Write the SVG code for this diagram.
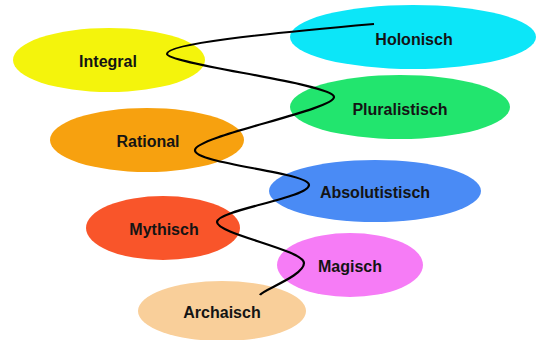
<svg xmlns="http://www.w3.org/2000/svg" width="537" height="340" viewBox="0 0 537 340">
<style>
text{font-family:"Liberation Sans",Arial,sans-serif;font-weight:bold;font-size:16px;fill:#141414;text-anchor:middle}
.line{fill:none;stroke:#000;stroke-width:2.2}
</style>
<rect width="537" height="340" fill="#fff"/>
<g id="integral"><ellipse cx="109" cy="60" rx="96" ry="32" fill="#F4F40C"/><text x="108" y="67">Integral</text></g>
<g id="holonisch"><ellipse cx="413" cy="37" rx="123" ry="32" fill="#0CE6F8"/><text x="414" y="45">Holonisch</text></g>
<g id="pluralistisch"><ellipse cx="400" cy="107" rx="110" ry="32" fill="#22E56E"/><text x="400" y="115">Pluralistisch</text></g>
<g id="rational"><ellipse cx="147" cy="140" rx="97" ry="32" fill="#F7A10F"/><text x="148" y="147">Rational</text></g>
<g id="absolutistisch"><ellipse cx="375" cy="191" rx="106" ry="31" fill="#4A8BF5"/><text x="375" y="198">Absolutistisch</text></g>
<g id="mythisch"><ellipse cx="163" cy="228" rx="77" ry="32" fill="#F9552A"/><text x="164" y="235">Mythisch</text></g>
<g id="magisch"><ellipse cx="350" cy="265" rx="73" ry="32" fill="#F67CF6"/><text x="350" y="272">Magisch</text></g>
<g id="archaisch"><ellipse cx="222" cy="311" rx="84" ry="30" fill="#F9CF9A"/><text x="222" y="318">Archaisch</text></g>
<g id="connectors">
<path class="line" d="M374,24 C260,34 166,44 167,54 C168,64 334,84 334,97 C334,110 196,136 195,150 C194,164 309,172 309,185 C309,198 217,210 217,222 C217,234 304,250 304,263 C304,276 262,290 260,295"/>
</g>
</svg>
